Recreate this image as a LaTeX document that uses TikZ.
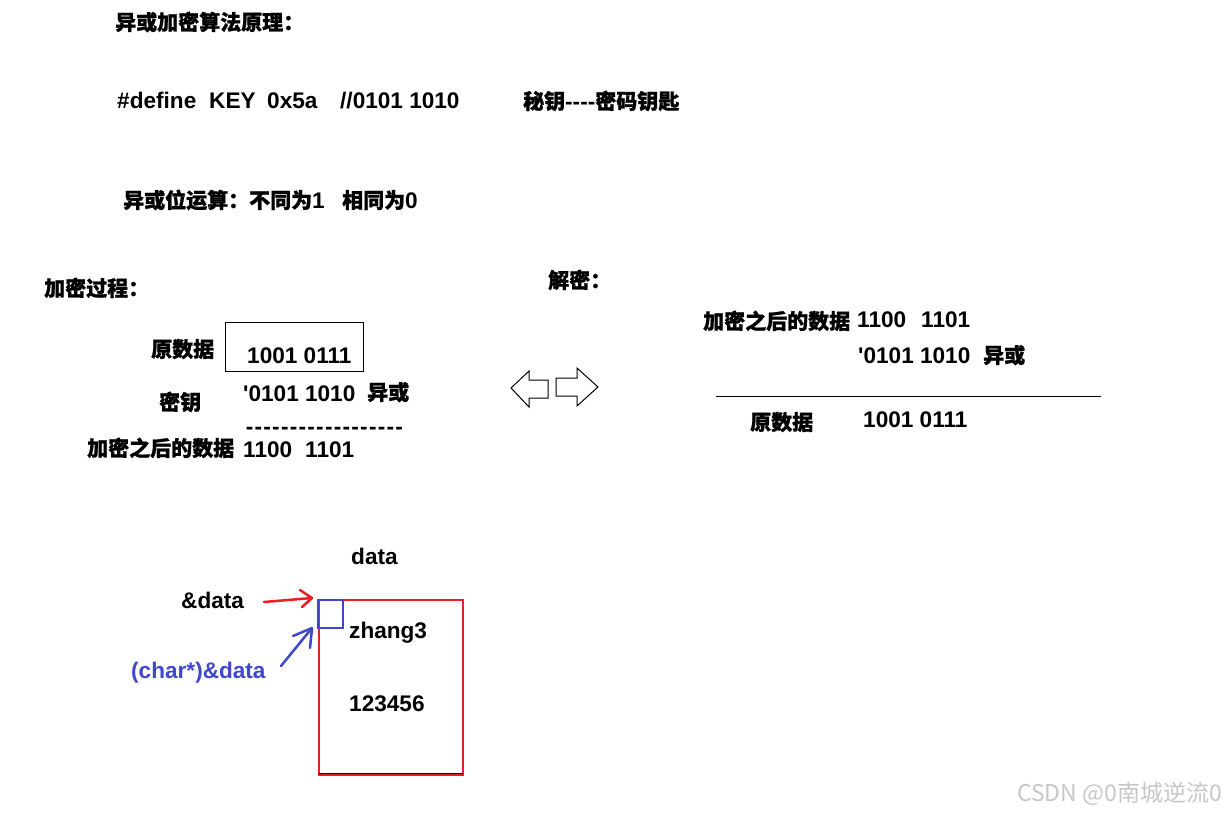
\documentclass[tikz,border=0pt]{standalone}
\usepackage{fontspec}
\newfontfamily\latfont{Liberation Sans}
\newfontfamily\zhfont{Noto Sans CJK SC}[BoldFeatures={FakeBold=1}]
\newfontfamily\wmfont{Noto Sans CJK SC}
\newcommand\latb{\latfont\bfseries\fontsize{22.6}{24}\selectfont}
\newcommand\cjb{\zhfont\bfseries\fontsize{21}{24}\selectfont}
\newcommand\hy{\makebox[8.8pt]{-}}
\definecolor{pred}{HTML}{ED1C24}
\definecolor{pblue}{HTML}{3F48CC}
\tikzset{
  lt/.style={inner sep=0pt, anchor=base west, font=\latb},
  cj/.style={inner sep=0pt, anchor=base west, font=\cjb},
  blockarrow/.style={draw=black, line width=1pt, fill=white, line join=miter},
  handarrow/.style={line width=2.5pt, line cap=round, line join=round},
}
\begin{document}
\begin{tikzpicture}[x=1pt,y=-1pt]
\useasboundingbox[fill=white] (0,0) rectangle (1231,812);
% header
\node[cj] (title) at (115,30) {异或加密算法原理：};
\node[lt] (def) at (117,108.5) {\#define};
\node[lt] (key) at (209,108.5) {KEY};
\node[lt] (hex) at (267,108.5) {0x5a};
\node[lt] (bin) at (340,108.5) {//0101 1010};
\node[cj] (mima) at (523,109) {秘钥{\latb ----}密码钥匙};
\node[cj] (rule1) at (123,208) {异或位运算：不同为{\latb 1}};
\node[cj] (rule2) at (342,208) {相同为{\latb 0}};
% encryption
\node[cj] (encT) at (44,296) {加密过程：};
\node[cj] (decT) at (548,288) {解密：};
\node[draw, line width=1pt, minimum width=138pt, minimum height=49pt, inner sep=0pt] (box) at (294,346.5) {};
\node[cj] (orig) at (151,357) {原数据};
\node[lt] (origv) at (247,363) {1001 0111};
\node[cj] (miyao) at (159,410) {密钥};
\node[lt] (keyv) at (243,401) {'0101 1010};
\node[cj] (xor1) at (367,400) {异或};
\node[lt] (dash) at (245,434) {\hy\hy\hy\hy\hy\hy\hy\hy\hy\hy\hy\hy\hy\hy\hy\hy\hy\hy};
\node[cj] (enc) at (87,456) {加密之后的数据};
\node[lt] (encA) at (243,457) {1100};
\node[lt] (encB) at (305,457) {1101};
% block arrows
\draw[blockarrow] (511,388) -- (529,371) -- (529,380) -- (548,380) -- (548,398) -- (529,398) -- (529,407) -- cycle;
\draw[blockarrow] (556,378) -- (577,378) -- (577,368) -- (598,387) -- (577,406) -- (577,396) -- (556,396) -- cycle;
% decryption
\node[cj] (enc2) at (703,329) {加密之后的数据};
\node[lt] (enc2A) at (857,327.5) {1100};
\node[lt] (enc2B) at (921,327.5) {1101};
\node[lt] (key2) at (858,363) {'0101 1010};
\node[cj] (xor2) at (983,363) {异或};
\coordinate (ruleL) at (716,396);
\coordinate (ruleR) at (1101,396);
\draw[line width=1pt] (ruleL) -- (ruleR);
\node[cj] (orig2) at (750,430) {原数据};
\node[lt] (orig2v) at (863,427.5) {1001 0111};
% memory diagram
\node[lt] (data) at (351,564) {data};
\node[lt] (adata) at (181,608) {\&data};
\node[lt, text=pblue] (cdata) at (131,678) {(char*)\&data};
\node[draw=pred, line width=2.6pt, minimum width=144pt, minimum height=175pt, inner sep=0pt] (mem) at (391,687.5) {};
\draw[line width=0.8pt] ([xshift=1.4pt,yshift=2.8pt]mem.south west) -- ([xshift=-1.4pt,yshift=2.8pt]mem.south east);
\node[draw=pblue, line width=2.6pt, minimum width=25pt, minimum height=28pt, inner sep=0pt] (byte) at (330.5,614) {};
\node[lt] (zhang) at (349,638.5) {zhang3};
\node[lt] (num) at (349,711.5) {123456};
% hand-drawn arrows
\coordinate (rtail) at (264,602);
\coordinate (rtip) at (312,598);
\coordinate (rh1) at (300,590);
\coordinate (rh2) at (302,607);
\draw[handarrow, pred] (rtail) -- (rtip);
\draw[handarrow, pred] (rh1) -- (rtip) -- (rh2);
\coordinate (btail) at (281,666);
\coordinate (btip) at (312,628);
\coordinate (bh1) at (293,636);
\coordinate (bh2) at (310,648);
\draw[handarrow, pblue] (btail) -- (btip);
\draw[handarrow, pblue] (bh1) -- (btip) -- (bh2);
% watermark
\node[inner sep=0pt, anchor=base west, font=\wmfont\fontsize{23}{24}\selectfont, text=black!22] (wm) at (1017,801) {CSDN @0南城逆流0};
\end{tikzpicture}
\end{document}
